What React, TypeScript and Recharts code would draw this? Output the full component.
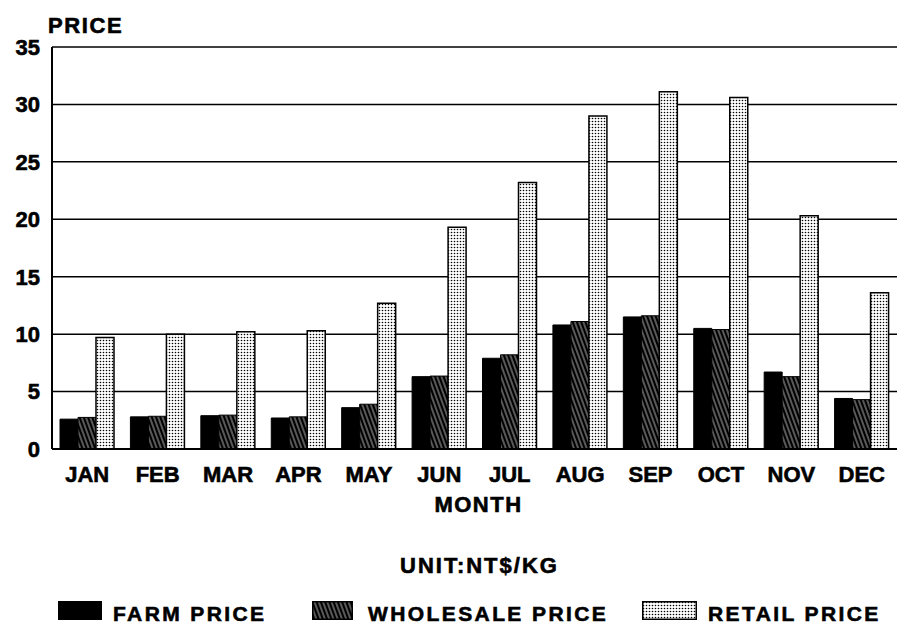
import { BarChart, Bar, XAxis, YAxis, CartesianGrid, Legend, Label } from "recharts";

const months = ["JAN", "FEB", "MAR", "APR", "MAY", "JUN", "JUL", "AUG", "SEP", "OCT", "NOV", "DEC"];
const farmPrice = [2.6, 2.8, 2.9, 2.7, 3.6, 6.3, 7.9, 10.8, 11.5, 10.5, 6.7, 4.4];
const wholesalePrice = [2.75, 2.85, 2.95, 2.8, 3.9, 6.35, 8.2, 11.1, 11.6, 10.4, 6.3, 4.3];
const retailPrice = [9.7, 10.0, 10.2, 10.3, 12.7, 19.3, 23.2, 29.0, 31.1, 30.6, 20.3, 13.6];
const yTicks = [0, 5, 10, 15, 20, 25, 30, 35];
const seriesNames = ["FARM PRICE", "WHOLESALE PRICE", "RETAIL PRICE"];

const data = months.map((m, i) => ({
  month: m,
  farm: farmPrice[i],
  wholesale: wholesalePrice[i],
  retail: retailPrice[i]
}));

const font = "'Liberation Sans', Arial, sans-serif";

// legend swatch placement (relative to the legend box, which starts at x=8, y=519)
const swatchFill = ["#000", "url(#hatch)", "url(#dots)"];
const swatchX = [50, 304, 634];
const swatchW = [44, 41, 55];
const labelX = [105, 360, 700];

function LegendBlock() {
  const txt = {
    position: "absolute" as const,
    fontFamily: font,
    fontWeight: 700,
    color: "#000",
    whiteSpace: "nowrap" as const,
    WebkitTextStroke: "0.6px #000"
  };
  return (
    <div style={{ position: "relative", height: 105 }}>
      <div style={{ ...txt, left: 392, top: 34, fontSize: 22, letterSpacing: 2 }}>UNIT:NT$/KG</div>
      {seriesNames.map((name, i) => (
        <div key={name}>
          <svg width={swatchW[i]} height={19} style={{ position: "absolute", left: swatchX[i], top: 82 }}>
            <rect x={0.75} y={0.75} width={swatchW[i] - 1.5} height={17.5} fill={swatchFill[i]} stroke="#000" strokeWidth={1.5} />
          </svg>
          <div style={{ ...txt, left: labelX[i], top: 83, fontSize: 21, letterSpacing: 2.4 }}>{name}</div>
        </div>
      ))}
    </div>
  );
}

export default function App() {
  const tickStyle = { fill: "#000", stroke: "#000", strokeWidth: 0.6, fontSize: 22, fontWeight: 700, fontFamily: font };
  return (
    <div style={{ position: "absolute", left: 0, top: 0, width: 897, height: 624, background: "#fff" }}>
      <div
        style={{
          position: "absolute",
          left: 48,
          top: 13,
          fontFamily: font,
          fontWeight: 700,
          fontSize: 22,
          letterSpacing: 1.6,
          color: "#000",
          WebkitTextStroke: "0.6px #000"
        }}
      >
        PRICE
      </div>
      <BarChart
        width={897}
        height={624}
        data={data}
        margin={{ top: 47, right: 0, left: 8, bottom: 0 }}
        barCategoryGap={8}
        barGap={0}
      >
        <defs>
          <pattern id="hatch" width="4" height="4" patternUnits="userSpaceOnUse" patternTransform="rotate(-20)">
            <rect width="4" height="4" fill="#000" />
            <line x1="2" y1="0" x2="2" y2="4" stroke="#fff" strokeWidth="0.7" />
          </pattern>
          <pattern id="dots" width="3" height="3" patternUnits="userSpaceOnUse">
            <rect width="3" height="3" fill="#fff" />
            <circle cx="1.5" cy="1.5" r="0.8" fill="#000" />
          </pattern>
        </defs>
        <CartesianGrid vertical={false} stroke="#000" strokeWidth={1.5} />
        <XAxis
          dataKey="month"
          axisLine={{ stroke: "#000", strokeWidth: 2 }}
          tickLine={false}
          tick={tickStyle}
          tickMargin={11}
          height={70}
          interval={0}
        >
          <Label
            value="MONTH"
            position="insideBottom"
            offset={7}
            dx={4}
            style={{ fill: "#000", stroke: "#000", strokeWidth: 0.6, fontSize: 22, fontWeight: 700, fontFamily: font, letterSpacing: 1.5 }}
          />
        </XAxis>
        <YAxis
          domain={[0, 35]}
          ticks={yTicks}
          axisLine={{ stroke: "#000", strokeWidth: 2 }}
          tickLine={false}
          tick={tickStyle}
          tickMargin={6}
          width={44}
        />
        <Legend verticalAlign="bottom" height={105} content={() => <LegendBlock />} />
        <Bar dataKey="farm" name={seriesNames[0]} fill="#000" stroke="#000" strokeWidth={1} isAnimationActive={false} />
        <Bar dataKey="wholesale" name={seriesNames[1]} fill="url(#hatch)" stroke="#000" strokeWidth={1} isAnimationActive={false} />
        <Bar dataKey="retail" name={seriesNames[2]} fill="url(#dots)" stroke="#000" strokeWidth={1.5} isAnimationActive={false} />
      </BarChart>
    </div>
  );
}
